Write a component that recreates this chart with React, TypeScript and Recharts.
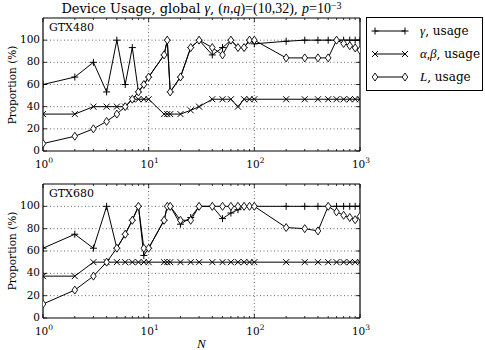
import React from 'react';
import { LineChart, Line, XAxis, YAxis, CartesianGrid, Legend } from 'recharts';

// ---- data ----
const N_VALUES = [1, 2, 3, 4, 5, 6, 7, 8, 9, 10, 14, 15, 16, 20, 25, 30, 40, 50, 60, 70, 80, 90, 100, 200, 300, 400, 500, 600, 700, 800, 900, 1000];

const GTX480_GAMMA = [60, 66.7, 80, 53.3, 100, 60, 93.3, 53.3, 60, 66.7, 86.7, 100, 53.3, 66.7, 93.3, 100, 86.7, 93.3, 100, 93.3, 93.3, 100, 96.7, 99, 100, 100, 100, 100, 100, 100, 100, 100];
const GTX480_ALPHABETA = [33.3, 33.3, 40, 40, 40, 40, 46.7, 46.7, 46.7, 46.7, 33.3, 33.3, 33.3, 33.3, 36.7, 40, 46.7, 46.7, 46.7, 40, 46.7, 46.7, 46.7, 46.7, 46.7, 46.7, 46.7, 46.7, 46.7, 46.7, 46.7, 46.7];
const GTX480_L = [6.7, 13.3, 20, 26.7, 33.3, 40, 46.7, 53.3, 60, 66.7, 86.7, 100, 53.3, 66.7, 93.3, 100, 93.3, 86.7, 100, 93.3, 93.3, 100, 100, 84, 84, 84, 84, 100, 97, 95, 93, 91];

const GTX680_GAMMA = [62.5, 75, 62.5, 100, 62.5, 75, 87.5, 100, 56, 62.5, 87.5, 100, 100, 84, 90, 100, 100, 89, 94, 97, 100, 100, 100, 100, 100, 100, 100, 100, 100, 100, 100, 100];
const GTX680_ALPHABETA = [37.5, 37.5, 50, 50, 50, 50, 50, 50, 50, 50, 50, 50, 50, 50, 50, 50, 50, 50, 50, 50, 50, 50, 50, 50, 50, 50, 50, 50, 50, 50, 50, 50];
const GTX680_L = [12.5, 25, 37.5, 50, 62.5, 75, 87.5, 100, 62.5, 62.5, 87.5, 100, 100, 87.5, 87.5, 100, 100, 100, 100, 100, 100, 100, 100, 81, 80, 78, 100, 95, 92, 90, 88, 91];

const Y_TICKS = [0, 20, 40, 60, 80, 100];
const Y_GRID = [20, 40, 60, 80, 100];
const Y_DOMAIN = [0, 120];
const X_DOMAIN = [1, 1000];
const X_MAJOR_TICKS = [1, 10, 100, 1000];
const X_MAJOR_EXPONENTS = ['0', '1', '2', '3'];
const X_MINOR_TICKS = [2, 3, 4, 5, 6, 7, 8, 9, 20, 30, 40, 50, 60, 70, 80, 90, 200, 300, 400, 500, 600, 700, 800, 900];
const X_GRID = [10, 100];
const SERIES_KEYS = ['gamma', 'ab', 'L'];
const SERIES_VARS = ['γ', 'α,β', 'L'];
const SERIES_SUFFIX = ', usage';
const DEVICE_LABELS = ['GTX480', 'GTX680'];

const FONT = "'DejaVu Serif', serif";
const MATH = "'Liberation Serif', 'DejaVu Serif', serif";
const ALL_X_TICKS = [...X_MAJOR_TICKS, ...X_MINOR_TICKS].sort((a, b) => a - b);

function buildRows(g: number[], ab: number[], l: number[]) {
  return N_VALUES.map((n, i) => ({ n, gamma: g[i], ab: ab[i], L: l[i] }));
}

// ---- markers ----
const PlusDot = (p: any) => {
  const { cx, cy } = p;
  if (cx == null || cy == null) return <g />;
  return <path d={`M${cx - 3.5},${cy}H${cx + 3.5}M${cx},${cy - 3.5}V${cy + 3.5}`} stroke="#000" strokeWidth={1} fill="none" />;
};
const CrossDot = (p: any) => {
  const { cx, cy } = p;
  if (cx == null || cy == null) return <g />;
  return <path d={`M${cx - 3},${cy - 3}L${cx + 3},${cy + 3}M${cx - 3},${cy + 3}L${cx + 3},${cy - 3}`} stroke="#000" strokeWidth={1} fill="none" />;
};
const DiamondDot = (p: any) => {
  const { cx, cy } = p;
  if (cx == null || cy == null) return <g />;
  return <path d={`M${cx},${cy - 4}L${cx + 2.8},${cy}L${cx},${cy + 4}L${cx - 2.8},${cy}Z`} stroke="#000" strokeWidth={0.9} fill="#fff" />;
};
const MARKERS = [PlusDot, CrossDot, DiamondDot];

// ---- ticks ----
const BottomTick = (p: any) => {
  const { x, y, payload } = p;
  const idx = X_MAJOR_TICKS.indexOf(payload.value);
  const major = idx >= 0;
  return (
    <g>
      <line x1={x} x2={x} y1={y} y2={y - (major ? 4 : 2)} stroke="#000" strokeWidth={0.8} />
      {major && (
        <text x={x + 1} y={y + 16.5} textAnchor="middle" fontFamily={FONT} fontSize={10.5} fill="#000">
          10<tspan dy={-5} fontSize={7.5}>{X_MAJOR_EXPONENTS[idx]}</tspan>
        </text>
      )}
    </g>
  );
};
const TopTick = (p: any) => {
  const { x, y, payload } = p;
  const major = X_MAJOR_TICKS.indexOf(payload.value) >= 0;
  return <line x1={x} x2={x} y1={y} y2={y + (major ? 4 : 2)} stroke="#000" strokeWidth={0.8} />;
};
const LeftTick = (p: any) => {
  const { x, y, payload } = p;
  return (
    <g>
      <line x1={x} x2={x + 4} y1={y} y2={y} stroke="#000" strokeWidth={0.8} />
      <text x={x - 3} y={y} dy="0.3em" textAnchor="end" fontFamily={FONT} fontSize={10.5} fill="#000">{payload.value}</text>
    </g>
  );
};
const RightTick = (p: any) => {
  const { x, y } = p;
  return <line x1={x} x2={x - 4} y1={y} y2={y} stroke="#000" strokeWidth={0.8} />;
};

// ---- legend ----
const LegendBox = (props: any) => {
  const payload = props.payload || [];
  const ordered = SERIES_KEYS.map((k) => payload.find((e: any) => e.dataKey === k)).filter(Boolean);
  return (
    <div style={{ border: '1.2px solid #000', background: '#fff', width: 117, height: 74, boxSizing: 'border-box', fontFamily: FONT, fontSize: 12, paddingTop: 1.5 }}>
      {ordered.map((entry: any) => {
        const i = SERIES_KEYS.indexOf(entry.dataKey);
        const Marker = MARKERS[i];
        const label = String(entry.value);
        const v = label.replace(SERIES_SUFFIX, '');
        return (
          <div key={i} style={{ display: 'flex', alignItems: 'center', height: 23, whiteSpace: 'nowrap' }}>
            <svg width={49} height={14} style={{ marginLeft: 4, flex: 'none' }}>
              <line x1={4} x2={34} y1={7} y2={7} stroke="#000" strokeWidth={1} />
              <Marker cx={4} cy={7} />
              <Marker cx={34} cy={7} />
            </svg>
            <span><i style={{ fontFamily: MATH, fontSize: 13 }}>{v}</i>{SERIES_SUFFIX}</span>
          </div>
        );
      })}
    </div>
  );
};

function Panel(props: { rows: any[]; top: number; height: number; mTop: number; mBottom: number; label: string; showLegend: boolean }) {
  const { rows, top, height, mTop, mBottom, label, showLegend } = props;
  return (
    <div style={{ position: 'absolute', left: 0, top, width: 485, height }}>
      <LineChart width={485} height={height} data={rows} margin={{ top: mTop - 1, right: 124, bottom: mBottom - 1, left: 42 }}>
        <CartesianGrid xAxisId="x" yAxisId="l" stroke="#000" strokeWidth={0.6} strokeDasharray="1 2.5" verticalValues={X_GRID} horizontalValues={Y_GRID} />
        <XAxis xAxisId="x" dataKey="n" type="number" scale="log" domain={X_DOMAIN} allowDataOverflow ticks={ALL_X_TICKS} interval={0} height={1} tickSize={0} tickMargin={0} tickLine={false} axisLine={{ stroke: '#000', strokeWidth: 1.2 }} tick={(p: any) => <BottomTick {...p} />} />
        <XAxis xAxisId="t" orientation="top" dataKey="n" type="number" scale="log" domain={X_DOMAIN} allowDataOverflow ticks={ALL_X_TICKS} interval={0} height={1} tickSize={0} tickMargin={0} tickLine={false} axisLine={{ stroke: '#000', strokeWidth: 1.2 }} tick={(p: any) => <TopTick {...p} />} />
        <YAxis yAxisId="l" type="number" domain={Y_DOMAIN} allowDataOverflow ticks={Y_TICKS} interval={0} width={1} tickSize={0} tickMargin={0} tickLine={false} axisLine={{ stroke: '#000', strokeWidth: 1.2 }} tick={(p: any) => <LeftTick {...p} />} />
        <YAxis yAxisId="r" orientation="right" type="number" domain={Y_DOMAIN} allowDataOverflow ticks={Y_TICKS} interval={0} width={1} tickSize={0} tickMargin={0} tickLine={false} axisLine={{ stroke: '#000', strokeWidth: 1.2 }} tick={(p: any) => <RightTick {...p} />} />
        {SERIES_KEYS.map((k, i) => (
          <Line key={k} xAxisId="x" yAxisId="l" type="linear" dataKey={k} name={SERIES_VARS[i] + SERIES_SUFFIX} stroke="#000" strokeWidth={1} dot={MARKERS[i]} activeDot={false} isAnimationActive={false} />
        ))}
        {showLegend && (
          <Legend layout="vertical" align="center" verticalAlign="middle" content={(p: any) => <LegendBox {...p} />} wrapperStyle={{ left: 366, top: 17, width: 117, height: 74 }} />
        )}
      </LineChart>
      <div style={{ position: 'absolute', left: 49, top: mTop + 3, fontFamily: FONT, fontSize: 11, color: '#000', lineHeight: '14px' }}>{label}</div>
    </div>
  );
}

export default function App() {
  const rows480 = buildRows(GTX480_GAMMA, GTX480_ALPHABETA, GTX480_L);
  const rows680 = buildRows(GTX680_GAMMA, GTX680_ALPHABETA, GTX680_L);
  const yLabelStyle: React.CSSProperties = {
    position: 'absolute', width: 120, left: 12 - 60, textAlign: 'center', transform: 'rotate(-90deg)',
    fontFamily: FONT, fontSize: 10.5, lineHeight: '14px', color: '#000',
  };
  const mathStyle: React.CSSProperties = { fontFamily: MATH, fontSize: 14 };
  return (
    <div style={{ position: 'absolute', left: 0, top: 0, width: 485, height: 350, background: '#fff', overflow: 'hidden' }}>
      <div style={{ position: 'absolute', left: 0, width: 403, top: 1, textAlign: 'center', fontFamily: FONT, fontSize: 13, lineHeight: '16px', color: '#000', whiteSpace: 'nowrap' }}>
        Device Usage, global <i style={mathStyle}>γ</i>, <span style={mathStyle}>(<i>n</i>,<i>q</i>)=(10,32)</span>, <span style={mathStyle}><i>p</i>=10<sup style={{ fontSize: 10, verticalAlign: 'top', position: 'relative', top: -3 }}>−3</sup></span>
      </div>
      <Panel rows={rows480} top={0} height={170} mTop={18} mBottom={19} label={DEVICE_LABELS[0]} showLegend={true} />
      <Panel rows={rows680} top={170} height={180} mTop={14} mBottom={32} label={DEVICE_LABELS[1]} showLegend={false} />
      <div style={{ ...yLabelStyle, top: 85 - 7 }}>Proportion (%)</div>
      <div style={{ ...yLabelStyle, top: 251 - 7 }}>Proportion (%)</div>
      <div style={{ position: 'absolute', left: 197, top: 337, fontFamily: MATH, fontSize: 13, fontStyle: 'italic', lineHeight: '14px', color: '#000' }}>N</div>
    </div>
  );
}
